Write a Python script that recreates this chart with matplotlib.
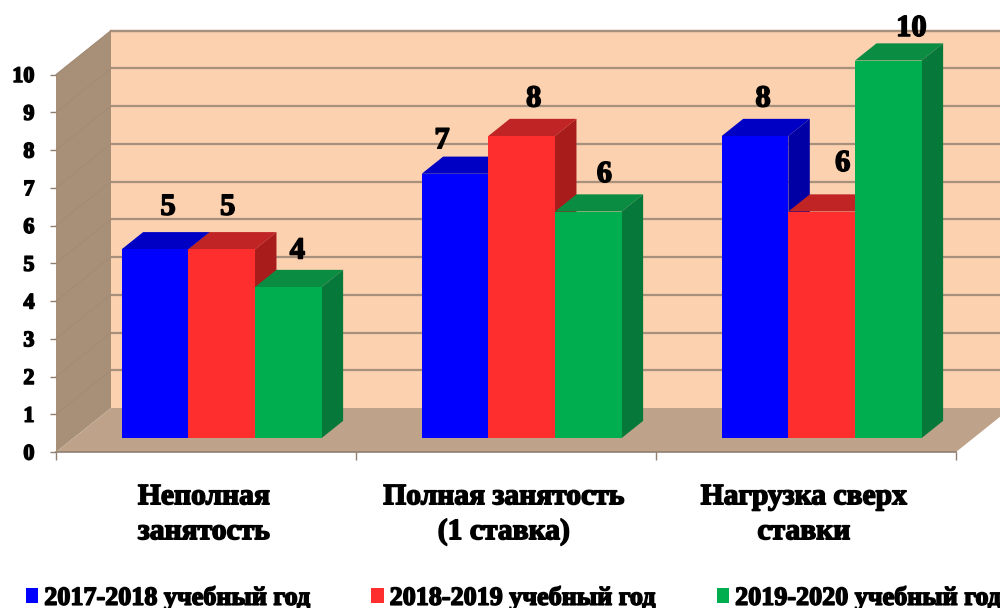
import matplotlib
matplotlib.use("Agg")
import matplotlib.pyplot as plt
import matplotlib.patheffects as pe
from matplotlib.patches import Polygon, Patch

# Chart data
categories = ["Неполная\nзанятость", "Полная занятость\n(1 ставка)", "Нагрузка сверх\nставки"]
years = ["2017-2018 учебный год", "2018-2019 учебный год", "2019-2020 учебный год"]
values_2017 = [5, 7, 8]
values_2018 = [5, 8, 6]
values_2019 = [4, 6, 10]
y_ticks = [0, 1, 2, 3, 4, 5, 6, 7, 8, 9, 10]

# Colours: front, top, side of each series
front_colors = ["#0000FF", "#FF2E2E", "#00AE50"]
top_colors = ["#0000C4", "#C02424", "#0A8C42"]
side_colors = ["#0000A4", "#A81C1C", "#06783A"]
wall_color = "#FBD1AF"
left_wall_color = "#A78F78"
floor_color = "#BEA289"
grid_color = "#A8917C"

# Depth of the fake 3D box, in axis units
DEPTH_X = 55 / 300
DEPTH_Y = 44 / 37.75
BAR_START = 0.318
BAR_DEPTH = 0.39
BAR_WIDTH = 0.2222
GROUP_SHIFT = -0.006

# Hand placement of the value labels (pixels from the bar's front top centre)
label_nudge = [
    [(13, 42), (6, 42), (9, 36)],
    [(-13, 33), (12, 37), (16, 37)],
    [(8, 37), (21, 48), (23, 32)],
]

plt.rcParams["font.family"] = ["Liberation Serif", "DejaVu Serif"]
plt.rcParams["font.weight"] = "bold"
heavy = [pe.withStroke(linewidth=1.1, foreground="black")]


def shift(x, y, d):
    """Move a point on the front plane back into the box by depth d (0 to 1)"""
    return (x + d * DEPTH_X, y + d * DEPTH_Y)


fig = plt.figure(figsize=(10, 6.08), dpi=100)
ax = fig.add_axes([0.056, 156 / 608, 0.9, 377.5 / 608])
n = len(categories)
top = max(y_ticks)
ax.set_xlim(0, n)
ax.set_ylim(0, top)

for spine in ax.spines.values():
    spine.set_visible(False)
ax.patch.set_visible(False)

# Walls and floor of the box
back_left = shift(0, 0, 1)
back_right = shift(n, 0, 1)
ax.add_patch(Polygon([back_left, (back_right[0], back_left[1]), (back_right[0], top + DEPTH_Y),
                      (back_left[0], top + DEPTH_Y)], fc=wall_color, ec="none",
                     clip_on=False, zorder=1))
ax.add_patch(Polygon([(0, 0), (0, top), shift(0, top, 1), back_left], fc=left_wall_color,
                     ec="none", clip_on=False, zorder=1))
ax.add_patch(Polygon([(0, 0), (n, 0), back_right, back_left], fc=floor_color, ec="none",
                     clip_on=False, zorder=1))

# Gridlines on the back wall, and very faint ones along the left wall
for tick in y_ticks[1:] + [top]:
    bx, by = shift(0, tick, 1)
    ax.plot([bx, back_right[0]], [by, by], color=grid_color, lw=1.6, clip_on=False, zorder=2)
    ax.plot([0, bx], [tick, by], color="#A08A74", lw=0.5, clip_on=False, zorder=2)
ax.plot([0, n], [0, 0], color="#8F7F70", lw=1.2, clip_on=False, zorder=2)

# Bars, left to right so that each one covers its neighbour's side
series = [values_2017, values_2018, values_2019]
base = BAR_START * DEPTH_Y
z = 3
for i in range(n):
    for j, values in enumerate(series):
        x = i + 0.5 + (j - 1) * BAR_WIDTH + BAR_START * DEPTH_X + GROUP_SHIFT
        v = values[i]
        x0, x1 = x - BAR_WIDTH / 2, x + BAR_WIDTH / 2
        y1 = base + v
        ax.bar(x, v, BAR_WIDTH, bottom=base, color=front_colors[j], zorder=z + 2, clip_on=False)
        ax.add_patch(Polygon([(x0, y1), (x1, y1), shift(x1, y1, BAR_DEPTH), shift(x0, y1, BAR_DEPTH)],
                             fc=top_colors[j], ec="none", clip_on=False, zorder=z))
        ax.add_patch(Polygon([(x1, base), (x1, y1), shift(x1, y1, BAR_DEPTH), shift(x1, base, BAR_DEPTH)],
                             fc=side_colors[j], ec="none", clip_on=False, zorder=z + 1))
        z += 3
        ax.annotate(str(v), (x, y1), xytext=label_nudge[i][j], textcoords="offset pixels",
                    ha="center", va="center", fontsize=22, fontweight="bold", color="black",
                    path_effects=heavy, annotation_clip=False, zorder=100)

# Axes ticks and labels
ax.set_yticks(y_ticks)
ax.set_yticklabels([str(t) for t in y_ticks], fontsize=16, fontweight="bold", path_effects=heavy)
ax.tick_params(axis="y", length=4.5, width=1, color="#8F7F70", pad=11)
ax.set_xticks(range(n + 1))
ax.set_xticklabels([])
ax.tick_params(axis="x", which="major", length=6, width=1, color="#8F7F70")
ax.set_xticks([i + 0.493 for i in range(n)], minor=True)
ax.set_xticklabels(categories, minor=True, fontsize=21.3, fontweight="bold", linespacing=1.38,
                   path_effects=heavy)
ax.tick_params(axis="x", which="minor", length=0, pad=22.5)

handles = [Patch(fc=c, ec="none") for c in front_colors]
legend = fig.legend(handles, years, loc="lower left", bbox_to_anchor=(0.026, -0.003), ncol=3,
                    frameon=False, borderpad=0, borderaxespad=0, handlelength=0.47, handleheight=0.47,
                    handletextpad=0.23, columnspacing=2.33, prop={"size": 18.8, "weight": "bold"})
for text in legend.get_texts():
    text.set_path_effects(heavy)

fig.savefig("out.png", dpi=100, facecolor="white")
